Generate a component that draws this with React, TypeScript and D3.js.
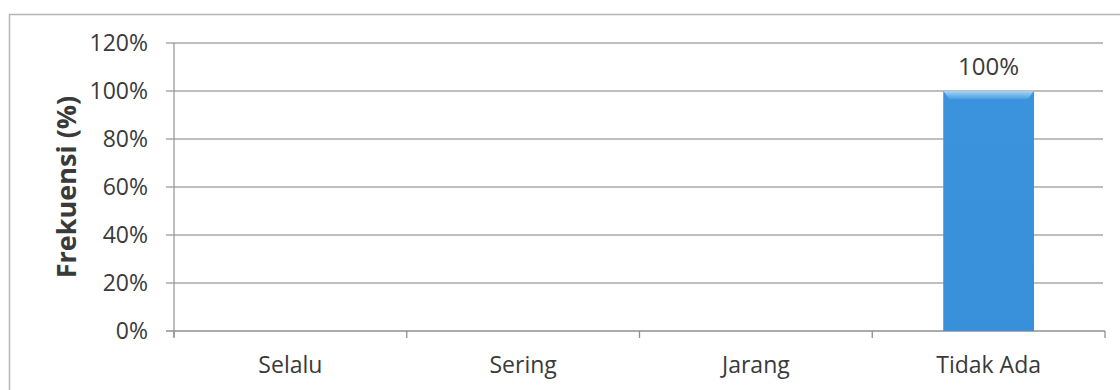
import React from "react";
import * as d3 from "d3";

const categories = ["Selalu", "Sering", "Jarang", "Tidak Ada"];
const values = [null, null, null, 100];
const yTicks = [0, 20, 40, 60, 80, 100, 120];
const yTitle = "Frekuensi (%)";

const W = 1120;
const H = 390;
const plot = { left: 174, right: 1105, top: 43, bottom: 331 };
const FONT = "'Open Sans', 'Noto Sans', sans-serif";
const INK = "#3a3a3a";

export default function App() {
  const x = d3
    .scaleBand<string>()
    .domain(categories)
    .range([plot.left, plot.right])
    .paddingInner(0.61)
    .paddingOuter(0.305);
  const band = d3.scaleBand<string>().domain(categories).range([plot.left, plot.right]);
  const y = d3.scaleLinear().domain([0, 120]).range([plot.bottom, plot.top]);

  const boundaries = [plot.left, ...categories.map((c) => (band(c) as number) + band.bandwidth())];

  return (
    <svg
      width={W}
      height={H}
      style={{ position: "absolute", left: 0, top: 0, background: "#fff" }}
    >
      <defs>
        <linearGradient id="barFill" x1="0" y1="0" x2="0" y2="1">
          <stop offset="0" stopColor="#3b93dd" />
          <stop offset="1" stopColor="#3890da" />
        </linearGradient>
        <linearGradient id="barTop" x1="0" y1="0" x2="0" y2="1">
          <stop offset="0" stopColor="#b3daf7" />
          <stop offset="1" stopColor="#4da0e3" />
        </linearGradient>
      </defs>

      {/* chart frame */}
      <rect x={9.5} y={14.5} width={1200} height={500} fill="none" stroke="#b5b5b5" strokeWidth={1.5} />

      {/* horizontal gridlines with left ticks */}
      {yTicks.map((t) => (
        <line
          key={t}
          x1={plot.left - 8}
          x2={t === 0 ? plot.right : plot.right - 2}
          y1={y(t)}
          y2={y(t)}
          stroke={t === 0 ? "#8f8f8f" : "#a8a8a8"}
          strokeWidth={1.3}
        />
      ))}

      {/* y axis line */}
      <line x1={plot.left} x2={plot.left} y1={plot.top} y2={plot.bottom + 6} stroke="#9a9a9a" strokeWidth={1.3} />

      {/* category boundary ticks */}
      {boundaries.map((bx, i) => (
        <line key={i} x1={bx} x2={bx} y1={plot.bottom} y2={plot.bottom + 7} stroke="#8f8f8f" strokeWidth={1.3} />
      ))}

      {/* y tick labels */}
      {yTicks.map((t) => (
        <text
          key={t}
          x={148}
          y={y(t)}
          dy="0.36em"
          textAnchor="end"
          fontFamily={FONT}
          fontSize={23}
          fill={INK}
        >
          {t}%
        </text>
      ))}

      {/* y axis title */}
      <text
        transform={`translate(76, ${(plot.top + plot.bottom) / 2}) rotate(-90)`}
        textAnchor="middle"
        fontFamily={FONT}
        fontWeight="bold"
        fontSize={27}
        fill={INK}
      >
        {yTitle}
      </text>

      {/* bars */}
      {categories.map((c, i) => {
        const v = values[i];
        if (v == null) return null;
        const bx = x(c) as number;
        const bw = x.bandwidth();
        const top = y(v);
        return (
          <g key={c}>
            <rect x={bx} y={top} width={bw} height={plot.bottom - top} fill="url(#barFill)" />
            <path
              d={`M${bx},${top} L${bx + bw},${top} L${bx + bw - 6},${top + 8} L${bx + 6},${top + 8} Z`}
              fill="url(#barTop)"
              opacity={0.9}
            />
            <text
              x={bx + bw / 2}
              y={top - 16}
              textAnchor="middle"
              fontFamily={FONT}
              fontSize={24}
              fill={INK}
            >
              {v}%
            </text>
          </g>
        );
      })}

      {/* category labels */}
      {categories.map((c) => (
        <text
          key={c}
          x={(band(c) as number) + band.bandwidth() / 2}
          y={373}
          textAnchor="middle"
          fontFamily={FONT}
          fontSize={23}
          fill={INK}
        >
          {c}
        </text>
      ))}
    </svg>
  );
}
